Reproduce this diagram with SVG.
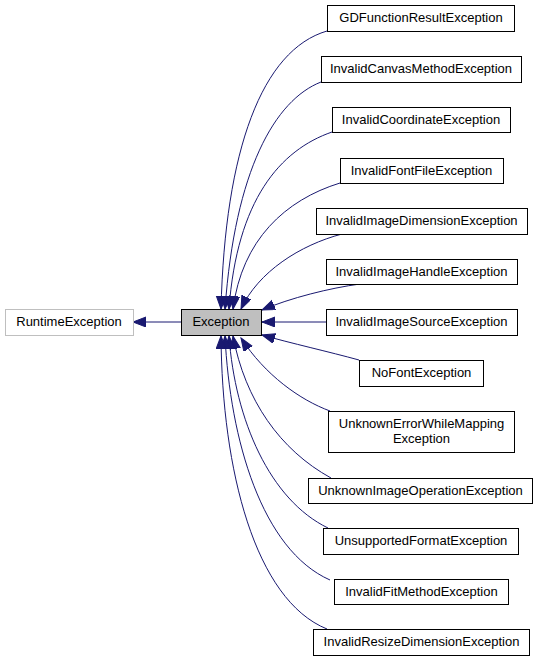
<svg xmlns="http://www.w3.org/2000/svg" width="539" height="661" viewBox="0 0 539 661">
<style>
.n rect{fill:#fff;stroke:#000;stroke-width:1}
.n text{font-family:"Liberation Sans",Arial,sans-serif;font-size:13px;fill:#000;text-anchor:middle}
.e path{fill:none;stroke:#191970;stroke-width:1;marker-end:url(#ah)}
</style>
<defs>
<marker id="ah" markerUnits="userSpaceOnUse" markerWidth="15" markerHeight="12" refX="13" refY="5" orient="auto">
<path d="M0,0 L13,5 L0,10 z" fill="#191970" stroke="#191970" stroke-width="1"/>
</marker>
</defs>
<rect width="539" height="661" fill="#fff"/>
<g id="connectors" class="e">
<path d="M181,322 L133,322"/>
<path d="M327,31 C262,50 225,150 221,309"/>
<path d="M321,82 C275,100 235,170 225,309"/>
<path d="M332,132 C280,150 237,200 229,309"/>
<path d="M340,183 C285,200 242,240 233,309"/>
<path d="M342,234 C300,245 258,272 241,309"/>
<path d="M360,284 C330,288 290,298 262,310"/>
<path d="M326,322 L262,322"/>
<path d="M359,360 C330,352 290,343 262,335"/>
<path d="M330,411 C300,400 265,375 241,338"/>
<path d="M331,478 C280,450 245,400 233,336"/>
<path d="M328,528 C270,500 235,420 229,336"/>
<path d="M330,580 C262,550 230,440 225,336"/>
<path d="M327,629 C255,600 222,470 221,336"/>
</g>
<g id="RuntimeException" class="n"><rect x="5.5" y="309.5" width="128" height="26" style="stroke:#bfbfbf"/><text x="69" y="326">RuntimeException</text></g>
<g id="Exception" class="n"><rect x="181.5" y="309.5" width="80" height="26" style="fill:#bfbfbf"/><text x="221" y="326">Exception</text></g>
<g id="GDFunctionResultException" class="n"><rect x="327.5" y="5.5" width="187" height="26"/><text x="421" y="22">GDFunctionResultException</text></g>
<g id="InvalidCanvasMethodException" class="n"><rect x="321.5" y="56.5" width="200" height="26"/><text x="421" y="73">InvalidCanvasMethodException</text></g>
<g id="InvalidCoordinateException" class="n"><rect x="332.5" y="107.5" width="178" height="25"/><text x="421" y="124">InvalidCoordinateException</text></g>
<g id="InvalidFontFileException" class="n"><rect x="340.5" y="158.5" width="163" height="25"/><text x="421.5" y="175">InvalidFontFileException</text></g>
<g id="InvalidImageDimensionException" class="n"><rect x="316.5" y="208.5" width="211" height="26"/><text x="421.5" y="225">InvalidImageDimensionException</text></g>
<g id="InvalidImageHandleException" class="n"><rect x="326.5" y="259.5" width="191" height="25"/><text x="421.5" y="276">InvalidImageHandleException</text></g>
<g id="InvalidImageSourceException" class="n"><rect x="326.5" y="309.5" width="191" height="26"/><text x="421.5" y="326">InvalidImageSourceException</text></g>
<g id="NoFontException" class="n"><rect x="359.5" y="360.5" width="124" height="26"/><text x="421.5" y="377">NoFontException</text></g>
<g id="UnknownErrorWhileMappingException" class="n"><rect x="328.5" y="411.5" width="186" height="41"/><text x="421.5" y="428">UnknownErrorWhileMapping</text><text x="421.5" y="443">Exception</text></g>
<g id="UnknownImageOperationException" class="n"><rect x="308.5" y="478.5" width="224" height="25"/><text x="420.5" y="495">UnknownImageOperationException</text></g>
<g id="UnsupportedFormatException" class="n"><rect x="323.5" y="528.5" width="195" height="26"/><text x="421" y="545">UnsupportedFormatException</text></g>
<g id="InvalidFitMethodException" class="n"><rect x="334.5" y="579.5" width="174" height="25"/><text x="421.5" y="596">InvalidFitMethodException</text></g>
<g id="InvalidResizeDimensionException" class="n"><rect x="313.5" y="629.5" width="216" height="26"/><text x="421.5" y="646">InvalidResizeDimensionException</text></g>
</svg>
